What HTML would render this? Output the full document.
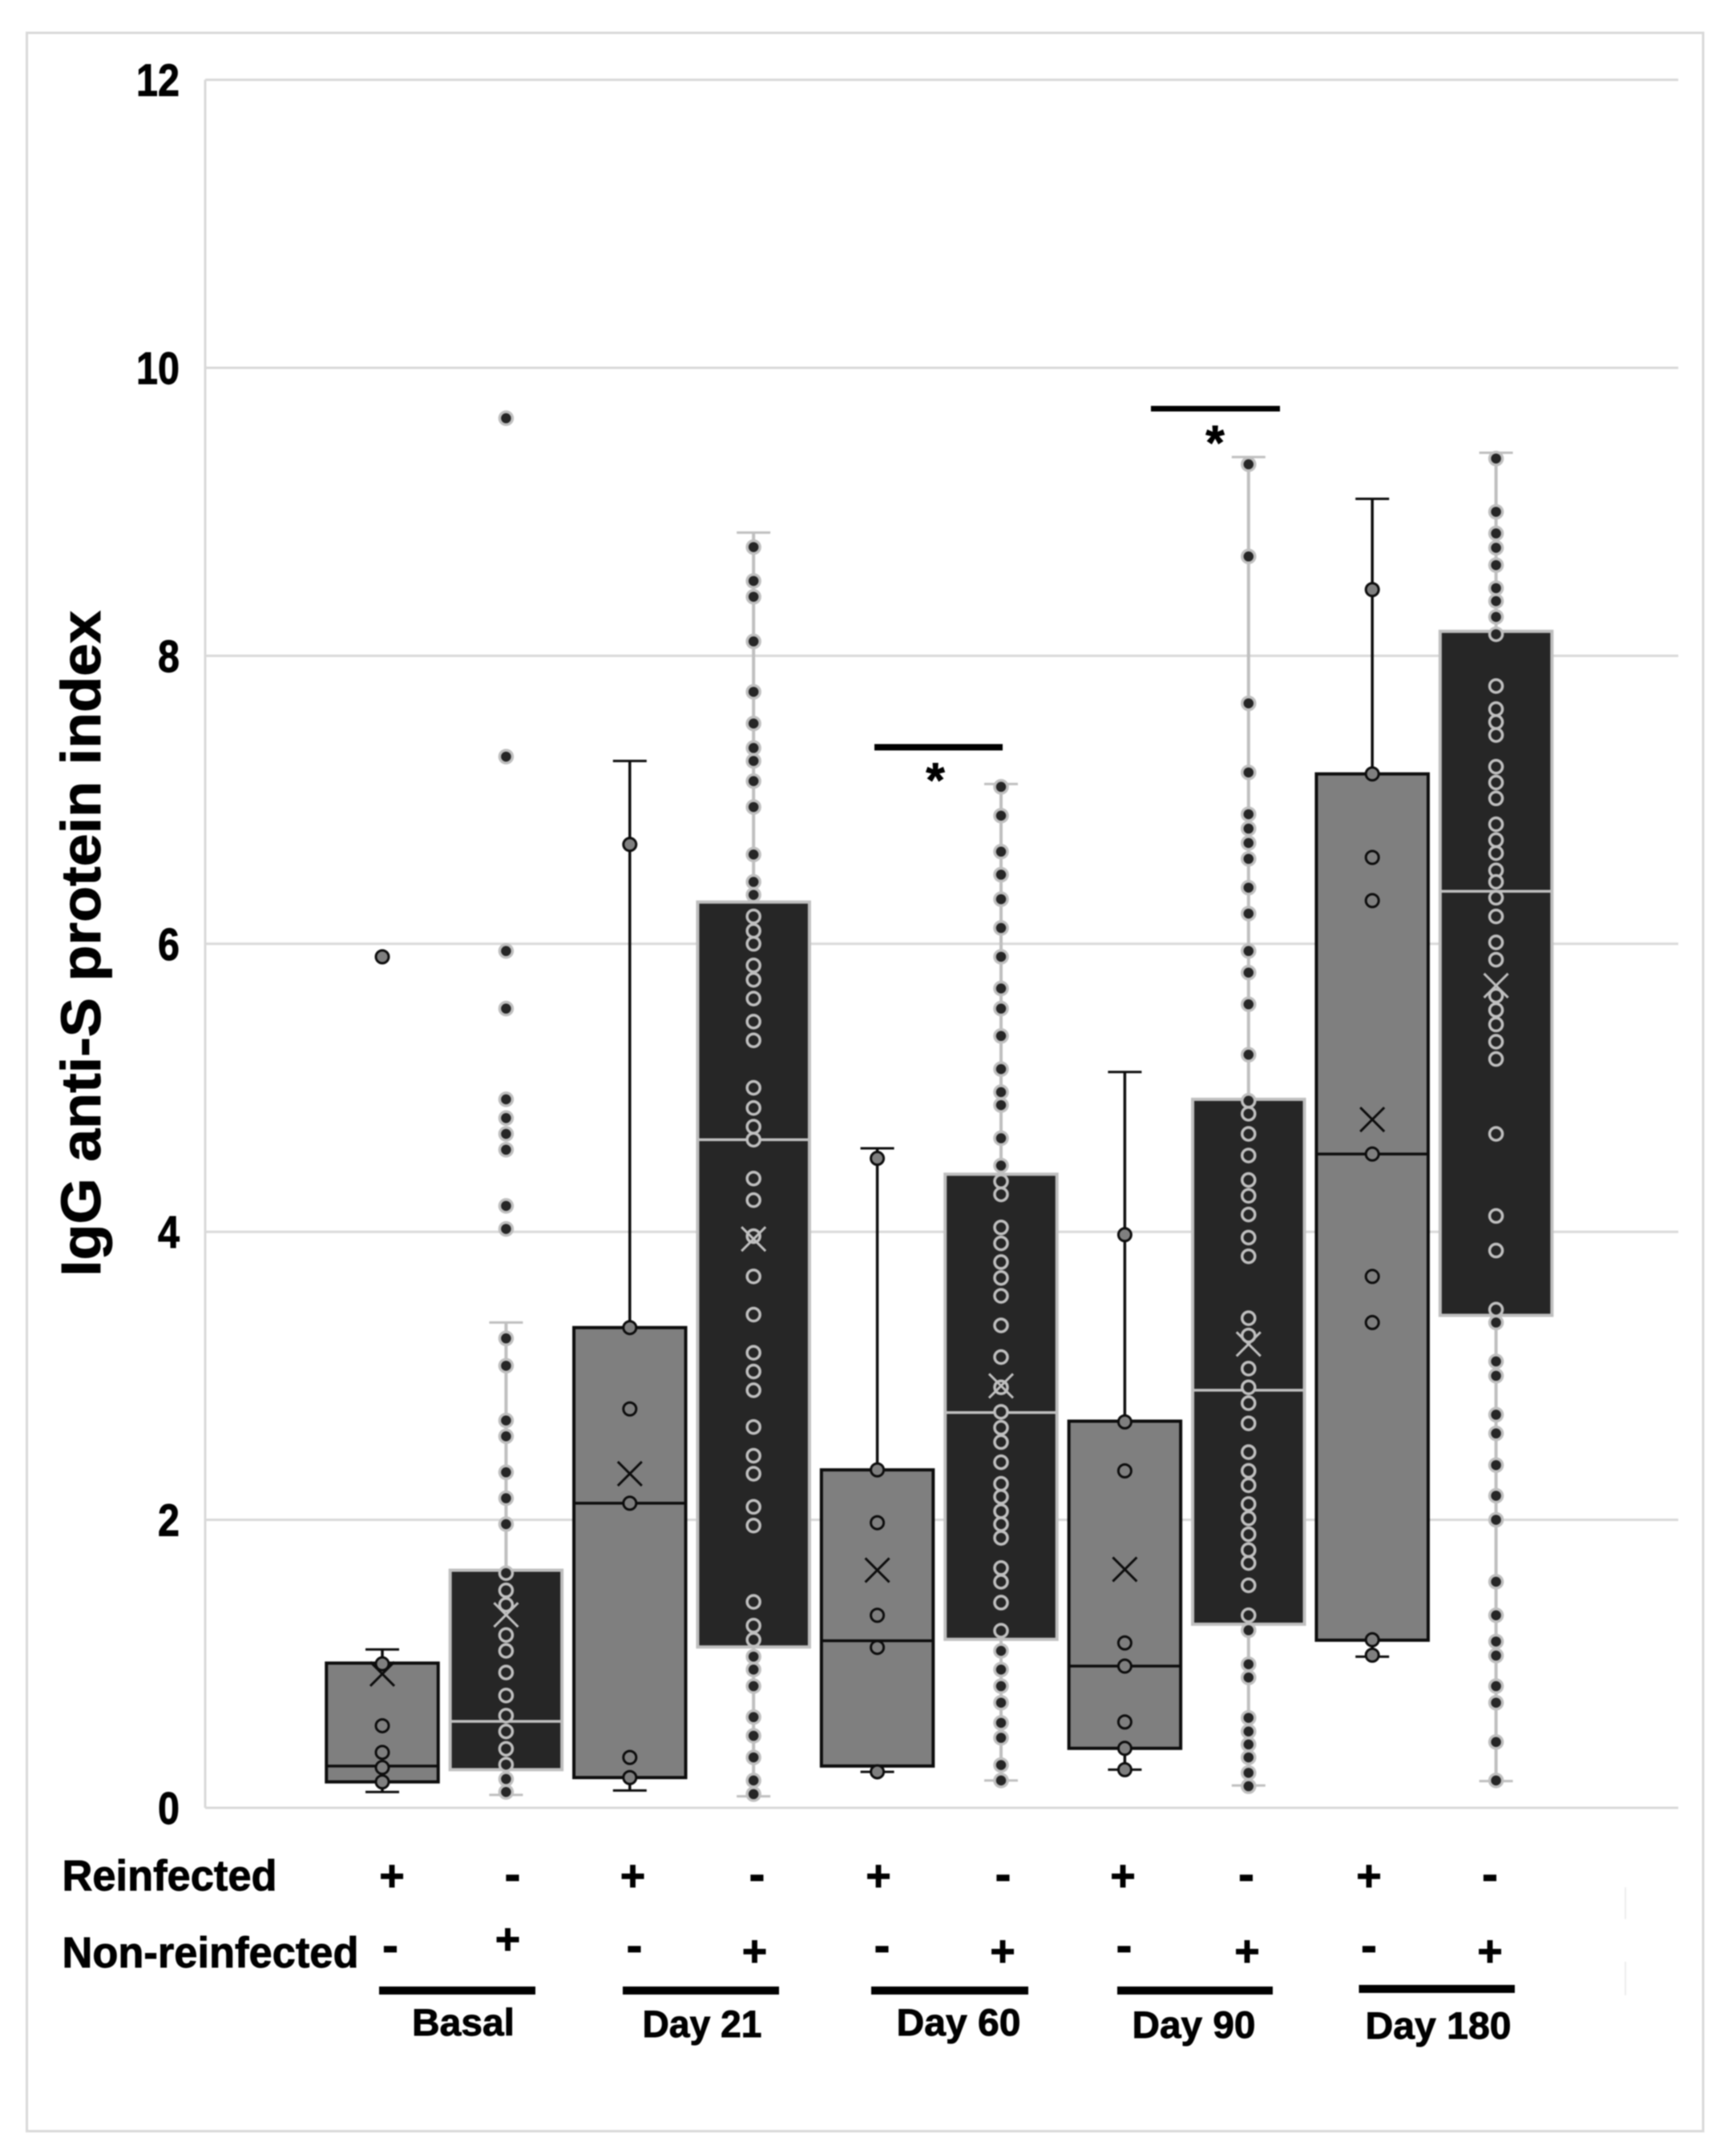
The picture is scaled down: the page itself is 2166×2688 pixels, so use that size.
<!DOCTYPE html>
<html lang="en">
<head>
<meta charset="utf-8">
<title>IgG anti-S protein index box plot</title>
<style>
html,body{margin:0;padding:0;background:#fff;width:2166px;height:2688px;overflow:hidden}
svg{display:block;filter:blur(.8px)}
text{font-family:"Liberation Sans",Arial,sans-serif;font-weight:700;fill:#000;stroke:#000;stroke-width:.9px}
</style>
</head>
<body>
<svg id="chart" xmlns="http://www.w3.org/2000/svg" width="2166" height="2688" viewBox="0 0 2166 2688">
  <rect x="33.5" y="41" width="2091.5" height="2618.5" fill="#fff" stroke="#d9d9d9" stroke-width="3"/>
  <g id="grid"></g>
  <g id="ticks"></g>
  <g id="marks"></g>

  <text transform="translate(125,1593) rotate(-90)" font-size="70" textLength="831" lengthAdjust="spacingAndGlyphs">IgG anti-S protein index</text>

  <rect x="1091" y="928.5" width="160" height="8" fill="#000"/>
  <text x="1167" y="994" font-size="60" text-anchor="middle">*</text>
  <rect x="1436" y="506.5" width="161" height="7" fill="#000"/>
  <text x="1516" y="573" font-size="60" text-anchor="middle">*</text>

  <text x="77.5" y="2359" font-size="54" textLength="268" lengthAdjust="spacingAndGlyphs">Reinfected</text>
  <text x="77.5" y="2455" font-size="54" textLength="370" lengthAdjust="spacingAndGlyphs">Non-reinfected</text>

  <g>
    <text x="489" y="2359" font-size="54" text-anchor="middle">+</text>
    <text x="639.5" y="2359" font-size="60" text-anchor="middle">-</text>
    <text x="789.5" y="2359" font-size="54" text-anchor="middle">+</text>
    <text x="944.5" y="2359" font-size="60" text-anchor="middle">-</text>
    <text x="1096" y="2359" font-size="54" text-anchor="middle">+</text>
    <text x="1251.5" y="2359" font-size="60" text-anchor="middle">-</text>
    <text x="1401" y="2359" font-size="54" text-anchor="middle">+</text>
    <text x="1555" y="2359" font-size="60" text-anchor="middle">-</text>
    <text x="1708" y="2359" font-size="54" text-anchor="middle">+</text>
    <text x="1859" y="2359" font-size="60" text-anchor="middle">-</text>
  </g>
  <g>
    <text x="487" y="2448" font-size="60" text-anchor="middle">-</text>
    <text x="633.5" y="2438" font-size="54" text-anchor="middle">+</text>
    <text x="791.5" y="2448" font-size="60" text-anchor="middle">-</text>
    <text x="941.5" y="2453" font-size="54" text-anchor="middle">+</text>
    <text x="1100.5" y="2448" font-size="60" text-anchor="middle">-</text>
    <text x="1251" y="2453" font-size="54" text-anchor="middle">+</text>
    <text x="1402.5" y="2448" font-size="60" text-anchor="middle">-</text>
    <text x="1556" y="2453" font-size="54" text-anchor="middle">+</text>
    <text x="1708" y="2448" font-size="60" text-anchor="middle">-</text>
    <text x="1859" y="2453" font-size="54" text-anchor="middle">+</text>
  </g>

  <rect x="473" y="2479" width="195" height="10" fill="#000"/>
  <rect x="777" y="2479" width="195" height="10" fill="#000"/>
  <rect x="1087" y="2479" width="196" height="10" fill="#000"/>
  <rect x="1394" y="2479" width="194" height="10" fill="#000"/>
  <rect x="1695.5" y="2477" width="194.5" height="10" fill="#000"/>

  <text x="514" y="2540" font-size="47" textLength="128" lengthAdjust="spacingAndGlyphs">Basal</text>
  <text x="801.5" y="2542" font-size="47" textLength="149" lengthAdjust="spacingAndGlyphs">Day 21</text>
  <text x="1118.5" y="2540" font-size="47" textLength="155" lengthAdjust="spacingAndGlyphs">Day 60</text>
  <text x="1412.5" y="2543" font-size="47" textLength="154" lengthAdjust="spacingAndGlyphs">Day 90</text>
  <text x="1703.5" y="2544" font-size="47" textLength="182" lengthAdjust="spacingAndGlyphs">Day 180</text>

  <line x1="2028" y1="2355" x2="2028" y2="2395" stroke="#eeeeee" stroke-width="2"/>
  <line x1="2028" y1="2448" x2="2028" y2="2490" stroke="#eeeeee" stroke-width="2"/>
</svg>
<script>
const categories = ['basal-reinfected','basal-non-reinfected','day21-reinfected','day21-non-reinfected','day60-reinfected','day60-non-reinfected','day90-reinfected','day90-non-reinfected','day180-reinfected','day180-non-reinfected'];
const yTicks = [0,2,4,6,8,10,12];
const q1 = [0.18,0.265,0.21,1.117,0.29,1.17,0.413,1.275,1.164,3.42];
const median = [0.29,0.60,2.115,4.64,1.16,2.745,0.984,2.90,4.54,6.365];
const q3 = [1.005,1.65,3.335,6.29,2.347,4.40,2.685,4.92,7.18,8.17];
const whiskerLow = [0.11,0.09,0.12,0.08,0.25,0.19,0.265,0.155,1.05,0.186];
const whiskerHigh = [1.10,3.37,7.27,8.856,4.58,7.11,5.11,9.38,9.09,9.41];
const meanValue = [0.93,1.34,2.32,3.95,1.65,2.93,1.656,3.22,4.78,5.71];
const pointsBasalReinfected = [5.91,1.0,0.57,0.385,0.28,0.18];
const pointsBasalNon = [9.65,7.30,5.95,5.55,4.92,4.79,4.68,4.57,4.18,4.02,3.26,3.07,2.69,2.58,2.33,2.15,1.97,1.63,1.51,1.41,1.20,1.09,0.94,0.78,0.64,0.53,0.41,0.30,0.20,0.11];
const pointsDay21Reinfected = [6.69,3.335,2.77,2.115,0.35,0.21];
const pointsDay21Non = [8.755,8.52,8.41,8.10,7.75,7.53,7.36,7.27,7.13,6.95,6.62,6.43,6.34,6.19,6.09,6.00,5.85,5.75,5.62,5.46,5.33,5.00,4.86,4.73,4.64,4.37,4.22,3.97,3.69,3.425,3.16,3.03,2.90,2.645,2.445,2.32,2.09,1.96,1.43,1.265,1.167,1.05,0.96,0.845,0.63,0.50,0.35,0.19,0.095];
const pointsDay60Reinfected = [4.51,2.347,1.98,1.337,1.114,0.25];
const pointsDay60Non = [7.09,6.89,6.64,6.48,6.31,6.11,5.91,5.69,5.55,5.36,5.13,4.97,4.88,4.65,4.46,4.35,4.26,4.03,3.92,3.79,3.68,3.555,3.35,3.13,2.92,2.75,2.64,2.54,2.40,2.25,2.16,2.06,1.97,1.875,1.665,1.57,1.425,1.23,1.09,0.96,0.845,0.73,0.59,0.486,0.297,0.19];
const pointsDay90Reinfected = [3.98,2.68,2.34,1.145,0.984,0.596,0.413,0.265];
const pointsDay90Non = [9.33,8.69,7.67,7.19,6.90,6.80,6.70,6.59,6.39,6.21,5.95,5.80,5.58,5.23,4.91,4.82,4.68,4.53,4.36,4.25,4.12,3.96,3.83,3.40,3.28,3.05,2.92,2.81,2.67,2.47,2.34,2.24,2.11,2.01,1.90,1.79,1.70,1.545,1.337,1.233,0.997,0.905,0.625,0.53,0.44,0.35,0.243,0.15];
const pointsDay180Reinfected = [8.46,7.18,6.60,6.30,4.54,3.69,3.37,1.167,1.06];
const pointsDay180Non = [9.37,9.0,8.85,8.75,8.63,8.47,8.38,8.27,8.15,7.79,7.63,7.54,7.45,7.23,7.12,7.01,6.83,6.72,6.63,6.51,6.43,6.32,6.19,6.01,5.89,5.64,5.54,5.44,5.32,5.20,4.68,4.11,3.87,3.46,3.37,3.10,3.0,2.73,2.60,2.38,2.167,2.0,1.57,1.337,1.155,1.057,0.845,0.73,0.457,0.19];
const pointSeries = [pointsBasalReinfected,pointsBasalNon,pointsDay21Reinfected,pointsDay21Non,pointsDay60Reinfected,pointsDay60Non,pointsDay90Reinfected,pointsDay90Non,pointsDay180Reinfected,pointsDay180Non];

const NS = 'http://www.w3.org/2000/svg';
const plotLeft = 256, plotRight = 2094, yZero = 2256, yUnit = 179.7;
const xStart = 477, xStep = 154.4, boxWidth = 139.5, capWidth = 42;
function yScale(v){ return yZero - yUnit * v; }
function xScale(i){ return xStart + xStep * i; }
function make(tag, attrs, parent){
  const el = document.createElementNS(NS, tag);
  for (const k in attrs) el.setAttribute(k, attrs[k]);
  parent.appendChild(el);
  return el;
}

const grid = document.getElementById('grid');
const ticks = document.getElementById('ticks');
const marks = document.getElementById('marks');

const axisLine = make('line', {x1: plotLeft, x2: plotLeft, y1: yScale(12), y2: yScale(0), stroke: '#d9d9d9', 'stroke-width': 3}, grid);



yTicks.forEach(function(t){
  const gl = make('line', {x1: plotLeft, x2: plotRight, y1: yScale(t), y2: yScale(t), stroke: '#d9d9d9', 'stroke-width': 3}, grid);
  
  
  const label = String(t);
  const tx = make('text', {x: 224 - label.length * 27, y: yScale(t) + 20, 'font-size': 57, textLength: label.length * 27, lengthAdjust: 'spacingAndGlyphs'}, ticks);
  tx.textContent = label;
  
  
});

categories.forEach(function(cat, i){
  const dark = i % 2 === 1;
  const lineColor = dark ? '#bfbfbf' : '#0d0d0d';
  const fillColor = dark ? '#262626' : '#7f7f7f';
  const cx = xScale(i);

  const g = make('g', {}, marks);
  
  

  const wl = make('line', {x1: cx, x2: cx, y1: yScale(whiskerHigh[i]), y2: yScale(whiskerLow[i]), stroke: lineColor, 'stroke-width': dark ? 4 : 3.5}, g);
  
  

  [whiskerHigh[i], whiskerLow[i]].forEach(function(v, k){
    const cap = make('line', {x1: cx - capWidth / 2, x2: cx + capWidth / 2, y1: yScale(v), y2: yScale(v), stroke: lineColor, 'stroke-width': 3}, g);
    
    
  });

  const box = make('rect', {x: cx - boxWidth / 2, y: yScale(q3[i]), width: boxWidth, height: yScale(q1[i]) - yScale(q3[i]), fill: fillColor, stroke: lineColor, 'stroke-width': 4}, g);
  
  

  const med = make('line', {x1: cx - boxWidth / 2, x2: cx + boxWidth / 2, y1: yScale(median[i]), y2: yScale(median[i]), stroke: lineColor, 'stroke-width': 3.5}, g);
  
  

  pointSeries[i].forEach(function(v){
    const p = make('circle', {cx: cx, cy: yScale(v), r: 8, fill: fillColor, stroke: lineColor, 'stroke-width': dark ? 3.5 : 3}, g);
    
    
  });

  const my = yScale(meanValue[i]);
  const mk = make('path', {d: 'M' + (cx - 15) + ' ' + (my - 15) + 'L' + (cx + 15) + ' ' + (my + 15) + 'M' + (cx + 15) + ' ' + (my - 15) + 'L' + (cx - 15) + ' ' + (my + 15), fill: 'none', stroke: lineColor, 'stroke-width': 3}, g);
  
  
});
</script>
</body>
</html>
